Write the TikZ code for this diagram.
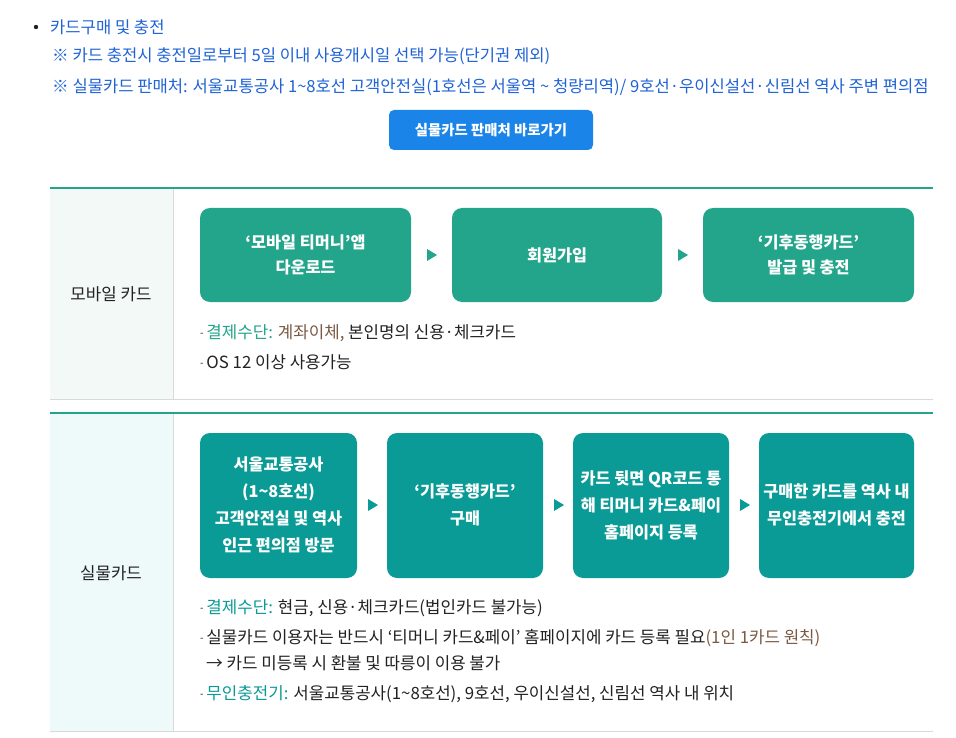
\documentclass[tikz,border=0pt]{standalone}
\usepackage{fontspec}
\setmainfont{Noto Sans CJK KR}
\definecolor{blu}{HTML}{1F63D6}
\definecolor{btn}{HTML}{1A84E8}
\definecolor{grn}{HTML}{22A58A}
\definecolor{tea}{HTML}{0A9B96}
\definecolor{lgr}{HTML}{F2F9F7}
\definecolor{lcy}{HTML}{EEF9FA}
\definecolor{txt}{HTML}{222222}
\definecolor{brn}{HTML}{7A5A44}
\newcommand{\dsh}{\raisebox{2pt}{\fontsize{10}{10}\selectfont-}\,}
\begin{document}
\begin{tikzpicture}[x=1pt,y=-1pt,
  every node/.style={font=\fontsize{16.8}{19}\selectfont,text=txt},
  wtext/.style={text=white,font=\fontsize{16.3}{25}\selectfont\bfseries,align=center},
  btext/.style={anchor=west,inner sep=0pt}]
\useasboundingbox (0,0) rectangle (956,738);
\fill[white] (0,0) rectangle (956,738);
% header
\fill[txt] (36,27) circle (2.2);
\node[btext,text=blu,font=\fontsize{16.6}{19}\selectfont] (h1) at (50,27) {카드구매 및 충전};
\node[btext,text=blu,font=\fontsize{16.6}{19}\selectfont] (h2) at (52,56) {※ 카드 충전시 충전일로부터 5일 이내 사용개시일 선택 가능(단기권 제외)};
\node[btext,text=blu,font=\fontsize{16.6}{19}\selectfont] (h3) at (52,87) {※ 실물카드 판매처: 서울교통공사 1\textasciitilde 8호선 고객안전실(1호선은 서울역 \textasciitilde\ 청량리역)/ 9호선·우이신설선·신림선 역사 주변 편의점};
\fill[btn,rounded corners=5pt] (389,110) rectangle (593,150);
\node[text=white,font=\fontsize{14.4}{16}\selectfont\bfseries] (btn) at (491,130) {실물카드 판매처 바로가기};
% section 1
\fill[lgr] (50,189) rectangle (173,399);
\draw[gray!30] (173,189) -- (173,399);
\draw[gray!30] (50,399) -- (933,399);
\draw[grn,line width=1.5pt] (50,188) -- (933,188);
\node (m) at (111,294) {모바일 카드};
\fill[grn,rounded corners=10pt] (200,208) rectangle (411,302); \node[wtext] (m1) at (305.5,255) {‘모바일 티머니’앱\\다운로드};
\fill[grn,rounded corners=10pt] (452,208) rectangle (662,302); \node[wtext] (m2) at (557,255) {회원가입};
\fill[grn,rounded corners=10pt] (703,208) rectangle (914,302); \node[wtext] (m3) at (808.5,255) {‘기후동행카드’\\발급 및 충전};
\fill[grn] (427,249) -- (437,255) -- (427,261) -- cycle;
\fill[grn] (678,249) -- (688,255) -- (678,261) -- cycle;
\node[btext] (t1) at (200,333) {\dsh\textcolor{grn}{결제수단:} \textcolor{brn}{계좌이체,} 본인명의 신용·체크카드};
\node[btext] (t2) at (200,362) {\dsh OS 12 이상 사용가능};
% section 2
\fill[lcy] (50,414) rectangle (173,731);
\draw[gray!30] (173,414) -- (173,731);
\draw[gray!30] (50,731) -- (933,731);
\draw[grn,line width=1.5pt] (50,413) -- (933,413);
\node (p) at (111,573) {실물카드};
\fill[tea,rounded corners=10pt] (200,433) rectangle (357,578);
\node[wtext,font=\fontsize{16.3}{27}\selectfont\bfseries] (p1) at (278.5,505) {서울교통공사\\(1\textasciitilde 8호선)\\고객안전실 및 역사\\인근 편의점 방문};
\fill[tea,rounded corners=10pt] (387,433) rectangle (543,578);
\node[wtext,font=\fontsize{16.3}{27}\selectfont\bfseries] (p2) at (465,505) {‘기후동행카드’\\구매};
\fill[tea,rounded corners=10pt] (573,433) rectangle (729,578);
\node[wtext,font=\fontsize{16.3}{27}\selectfont\bfseries] (p3) at (651,505) {카드 뒷면 QR코드 통\\해 티머니 카드\&페이\\홈페이지 등록};
\fill[tea,rounded corners=10pt] (759,433) rectangle (914,578);
\node[wtext,font=\fontsize{16.3}{27}\selectfont\bfseries] (p4) at (836.5,505) {구매한 카드를 역사 내\\무인충전기에서 충전};
\fill[tea] (368,499) -- (378,505) -- (368,511) -- cycle;
\fill[tea] (554,499) -- (564,505) -- (554,511) -- cycle;
\fill[tea] (740,499) -- (750,505) -- (740,511) -- cycle;
\node[btext] (u1) at (200,608) {\dsh\textcolor{tea}{결제수단:} 현금, 신용·체크카드(법인카드 불가능)};
\node[btext] (u2) at (200,638) {\dsh 실물카드 이용자는 반드시 ‘티머니 카드\&페이’ 홈페이지에 카드 등록 필요\textcolor{brn}{(1인 1카드 원칙)}};
\node[btext] (u3) at (206,663) {→ 카드 미등록 시 환불 및 따릉이 이용 불가};
\node[btext] (u4) at (200,694) {\dsh\textcolor{tea}{무인충전기:} 서울교통공사(1\textasciitilde 8호선), 9호선, 우이신설선, 신림선 역사 내 위치};
\end{tikzpicture}
\end{document}
